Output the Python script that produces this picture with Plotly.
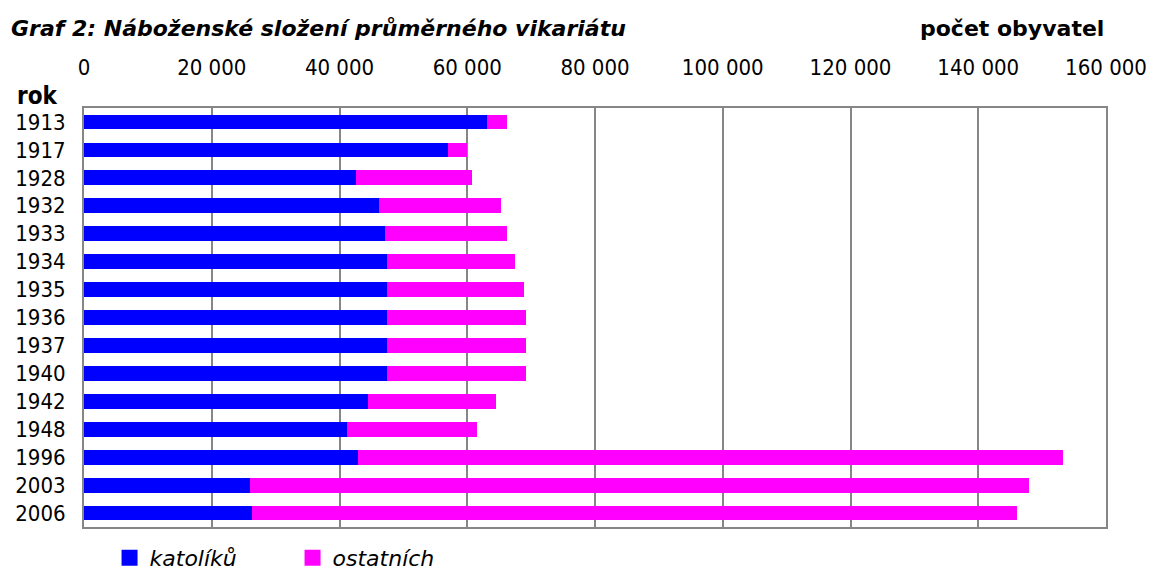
import plotly.graph_objects as go

years = ["1913", "1917", "1928", "1932", "1933", "1934", "1935", "1936",
         "1937", "1940", "1942", "1948", "1996", "2003", "2006"]
katoliku = [63060, 56910, 42600, 46170, 47120, 47450, 47450, 47450,
            47450, 47450, 44450, 41190, 42880, 25990, 26320]
ostatnich = [3240, 3020, 18160, 19130, 19120, 20030, 21420, 21760,
             21760, 21760, 20070, 20350, 110390, 121960, 119750]
x_ticks = [0, 20000, 40000, 60000, 80000, 100000, 120000, 140000, 160000]

NARROW = "DejaVu Sans Condensed, Liberation Sans Narrow, sans-serif"
TITLEF = "DejaVu Sans, Verdana, sans-serif"
BLUE = "#0000FF"
MAGENTA = "#FF00FF"

fig = go.Figure()
fig.add_trace(go.Bar(y=years, x=katoliku, orientation="h", name="katolíků",
                     marker=dict(color=BLUE, line=dict(width=0)),
                     showlegend=False))
fig.add_trace(go.Bar(y=years, x=ostatnich, orientation="h", name="ostatních",
                     marker=dict(color=MAGENTA, line=dict(width=0)),
                     showlegend=False))
# legend entries with larger square keys
for nm, col in [("katolíků", BLUE), ("ostatních", MAGENTA)]:
    fig.add_trace(go.Scatter(x=[None], y=[None], mode="markers", name=nm,
                             marker=dict(symbol="square", size=19, color=col,
                                         line=dict(width=0)),
                             showlegend=True))

fig.update_layout(
    barmode="stack",
    bargap=0.47,
    width=1153, height=570,
    margin=dict(l=84, r=47, t=108, b=43),
    plot_bgcolor="white", paper_bgcolor="white",
    separators=", ",
    font=dict(family=NARROW, size=22, color="black"),
    xaxis=dict(
        side="top", range=[0, 160000], tickvals=x_ticks, tickformat=",d",
        showgrid=True, gridcolor="#868686", gridwidth=2,
        showline=True, mirror=True, linecolor="#868686", linewidth=2,
        ticks="", ticklabelstandoff=22, zeroline=False, automargin=False,
        ticklabeloverflow="allow",
        tickfont=dict(family=NARROW, size=22),
    ),
    yaxis=dict(
        type="category", tickmode="array", tickvals=years, ticktext=years,
        categoryorder="array", categoryarray=years, autorange="reversed",
        showline=True, mirror=True, linecolor="#868686", linewidth=2,
        showgrid=False, ticks="", ticklabelstandoff=12, automargin=False,
        tickfont=dict(family=NARROW, size=22),
    ),
    legend=dict(
        orientation="h", x=0.025, xanchor="left",
        yref="container", y=0.021, yanchor="middle",
        entrywidth=138, entrywidthmode="pixels",
        font=dict(family=TITLEF, size=22, style="italic"),
        traceorder="normal",
    ),
    annotations=[
        dict(text="<b><i>Graf 2: Náboženské složení průměrného vikariátu</i></b>",
             xref="paper", yref="paper", x=-0.0735, y=1.0, xanchor="left",
             yanchor="middle", yshift=80, showarrow=False,
             font=dict(family=TITLEF, size=22)),
        dict(text="<b>počet obyvatel</b>", xref="paper", yref="paper",
             x=1.0, y=1.0, xanchor="right", yanchor="middle", yshift=80,
             showarrow=False, font=dict(family=TITLEF, size=22)),
        dict(text="<b>rok</b>", xref="paper", yref="paper",
             x=-0.068, y=1.0, xanchor="left", yanchor="middle", yshift=12,
             showarrow=False, font=dict(family=NARROW, size=24)),
    ],
)

fig.write_html("out.html",
               config={"displayModeBar": False},
               post_script="document.body.style.margin='0';document.body.style.padding='0';")
